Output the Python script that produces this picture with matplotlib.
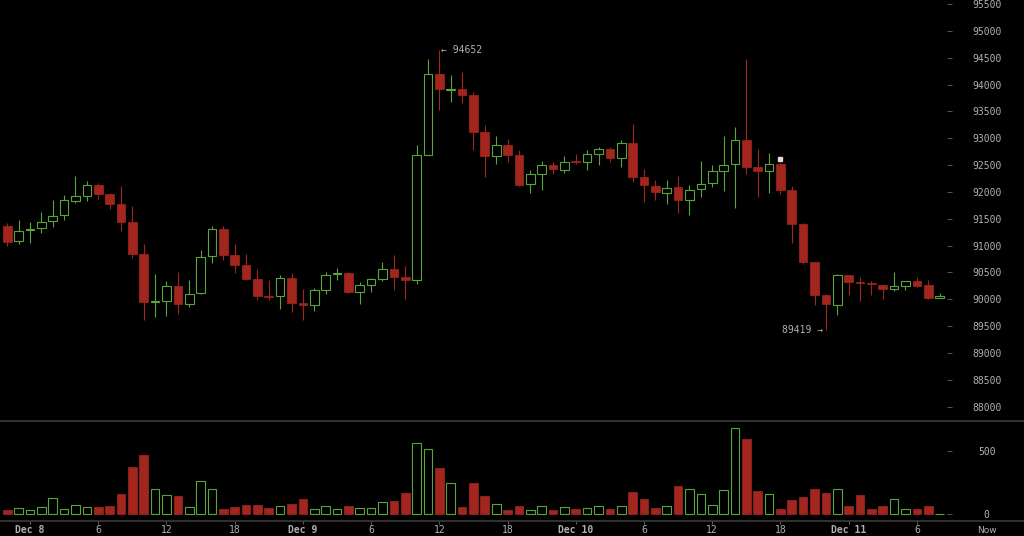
import numpy as np
import matplotlib.pyplot as plt
from matplotlib.lines import Line2D

# hourly candles, hour 0 = Dec 8 00:00
hours = list(range(-2, 81))

opens = [91359, 91080, 91290, 91335, 91452, 91564, 91830, 91923, 92136, 91968,
         91769, 91447, 90843, 89950, 89968, 90248, 89907, 90125, 90801, 91316,
         90832, 90633, 90385, 90070, 90056, 90391, 89925, 89888, 90168, 90470,
         90497, 90136, 90274, 90378, 90564, 90415, 90367, 92690, 94190, 93905,
         93923, 93811, 93115, 92663, 92880, 92694, 92150, 92328, 92508, 92400,
         92575, 92557, 92713, 92793, 92630, 92918, 92270, 92115, 91975, 92091,
         91850, 92061, 92166, 92389, 92514, 92974, 92464, 92389, 92514, 92030,
         91410, 90689, 90074, 89885, 90447, 90318, 90310, 90266, 90192, 90248,
         90335, 90261, 90032]
highs = [91420, 91471, 91434, 91626, 91856, 91936, 92290, 92203, 92166, 91987,
         92110, 91732, 91024, 90478, 90341, 90508, 90354, 90925, 91359, 91359,
         91024, 90838, 90571, 90367, 90447, 90490, 90199, 90218, 90508, 90583,
         90510, 90317, 90404, 90695, 90832, 90614, 92867, 94482, 94652, 94184,
         94232, 93860, 93240, 93035, 92992, 92774, 92402, 92570, 92557, 92663,
         92713, 92774, 92836, 92836, 92961, 93259, 92421, 92216, 92216, 92290,
         92123, 92570, 92508, 93035, 93208, 94482, 92793, 92724, 92530, 92104,
         91420, 90700, 90090, 90478, 90455, 90415, 90335, 90275, 90508, 90340,
         90415, 90367, 90117]
lows = [90987, 91024, 91048, 91235, 91346, 91484, 91793, 91830, 91875, 91676,
        91272, 90776, 89609, 89671, 89683, 89721, 89857, 90106, 90683, 90726,
        90497, 90354, 89981, 89994, 89827, 89764, 89609, 89782, 90093, 90367,
        90120, 89920, 90136, 90341, 90168, 90013, 90292, 92687, 93532, 93674,
        93655, 92774, 92277, 92514, 92557, 92104, 91979, 92043, 92341, 92352,
        92514, 92415, 92495, 92557, 92464, 92184, 91812, 91843, 91782, 91607,
        91564, 91905, 92091, 92017, 91700, 92341, 91905, 91979, 91968, 91048,
        90665, 89888, 89419, 89702, 90074, 89968, 90074, 90013, 90155, 90181,
        90229, 90013, 90025]
closes = [91067, 91272, 91316, 91447, 91551, 91843, 91918, 92136, 91968, 91769,
          91447, 90843, 89950, 89968, 90248, 89907, 90106, 90788, 91316, 90832,
          90633, 90385, 90056, 90050, 90391, 89931, 89901, 90168, 90460, 90497,
          90136, 90274, 90385, 90564, 90415, 90354, 92681, 94190, 93910, 93923,
          93811, 93115, 92663, 92880, 92694, 92136, 92328, 92508, 92434, 92551,
          92557, 92713, 92793, 92638, 92918, 92277, 92123, 91998, 92080, 91843,
          92043, 92154, 92389, 92508, 92974, 92464, 92389, 92514, 92030, 91410,
          90689, 90074, 89907, 90447, 90322, 90300, 90292, 90199, 90242, 90335,
          90248, 90032, 90056]
volumes = [34, 50, 37, 55, 126, 42, 73, 55, 55, 68,
           160, 369, 466, 197, 152, 147, 55, 259, 197, 42,
           55, 73, 73, 47, 68, 84, 120, 42, 63, 39,
           63, 50, 50, 94, 102, 165, 561, 514, 362, 244,
           55, 244, 147, 81, 31, 63, 37, 63, 31, 60,
           39, 50, 68, 45, 63, 173, 118, 50, 68, 223,
           202, 157, 71, 189, 681, 592, 183, 157, 45, 113,
           139, 197, 170, 197, 63, 152, 45, 63, 118, 42,
           45, 68, 5]

xtick_pos = [0, 6, 12, 18, 24, 30, 36, 42, 48, 54, 60, 66, 72, 78]
xtick_labels = ['Dec 8', '6', '12', '18', 'Dec 9', '6', '12', '18',
                'Dec 10', '6', '12', '18', 'Dec 11', '6']
now_hour = 84.2
price_ticks = list(range(88000, 95501, 500))
vol_ticks = [0, 500]

high_label = (36, 94652)
low_label = (70, 89419)
marker_point = (66, 92610)

RED = '#a3261e'
GREEN = '#5aa43e'
TXT = '#b0b0b0'
LINE = '#3a3a3a'
MONO = ['DejaVu Sans Mono', 'DejaVu Sans']

hours = np.array(hours)
opens = np.array(opens)
closes = np.array(closes)
highs = np.array(highs)
lows = np.array(lows)
volumes = np.array(volumes)
up = closes >= opens

fig = plt.figure(figsize=(10.24, 5.36), dpi=100, facecolor='black')
W, H = 1024, 536
ax = fig.add_axes([0, (H - 420.7) / H, 947 / W, 420.7 / H], facecolor='black')
axv = fig.add_axes([0, (H - 520.7) / H, 947 / W, 100 / H], facecolor='black', sharex=ax)

bw = 0.76
# wicks first, bodies on top (green ones hollow)
ax.vlines(hours[up], lows[up], highs[up], color=GREEN, lw=0.8, zorder=1)
ax.vlines(hours[~up], lows[~up], highs[~up], color=RED, lw=0.8, zorder=1)
body_lo = np.minimum(opens, closes)
body_h = np.maximum(np.abs(closes - opens), 12)
ax.bar(hours[up], body_h[up], bottom=body_lo[up], width=bw,
       facecolor='black', edgecolor=GREEN, linewidth=0.8, zorder=2)
ax.bar(hours[~up], body_h[~up], bottom=body_lo[~up], width=bw,
       color=RED, edgecolor=RED, linewidth=0.5, zorder=2)

ax.plot(*marker_point, marker='s', ms=2.4, color='#dddddd', zorder=3)
ax.annotate(f'\u2190 {high_label[1]}', xy=high_label, xytext=(2, 0),
            textcoords='offset pixels', ha='left', va='center',
            color=TXT, fontsize=7, family=MONO)
ax.annotate(f'{low_label[1]} \u2192', xy=low_label, xytext=(-3, 0),
            textcoords='offset pixels', ha='right', va='center',
            color=TXT, fontsize=7, family=MONO)

# volume bars
axv.bar(hours[up], volumes[up], width=bw, facecolor='black',
        edgecolor=GREEN, linewidth=0.8)
axv.bar(hours[~up], volumes[~up], width=bw, color=RED, edgecolor=RED, linewidth=0.5)

ax.set_xlim(-2.64, 80.65)
ax.set_ylim(87739, 95574)
axv.set_ylim(-50, 736)

for a in (ax, axv):
    for s in a.spines.values():
        s.set_visible(False)
    a.yaxis.tick_right()
    a.tick_params(axis='y', length=3.6, width=0.7, color='#555555', pad=25,
                  labelsize=7, labelcolor=TXT)

ax.set_yticks(price_ticks)
ax.set_yticklabels([str(t) for t in price_ticks], family=MONO, ha='center')
axv.set_yticks(vol_ticks)
axv.set_yticklabels([str(t) for t in vol_ticks], family=MONO, ha='center')
ax.tick_params(axis='x', bottom=False, labelbottom=False)

axv.set_xticks(xtick_pos)
axv.set_xticklabels(xtick_labels, family=MONO)
axv.tick_params(axis='x', length=2.2, width=0.7, color='#666666', pad=1,
                labelsize=7, labelcolor=TXT)
for lab in axv.get_xticklabels():
    if lab.get_text().startswith('Dec'):
        lab.set_fontweight('bold')
axv.annotate('Now', xy=(now_hour, 0), xycoords=('data', 'axes fraction'),
             xytext=(0, -5), textcoords='offset pixels', ha='center', va='top',
             color=TXT, fontsize=6.5, annotation_clip=False)

# separator lines across the full width
fig.add_artist(Line2D([0, 1], [(H - 420.7) / H] * 2, color=LINE, lw=1.2,
                      transform=fig.transFigure))
fig.add_artist(Line2D([0, 1], [(H - 520.7) / H] * 2, color=LINE, lw=1.2,
                      transform=fig.transFigure))

plt.savefig('out.png', dpi=100, facecolor='black')
plt.close()
